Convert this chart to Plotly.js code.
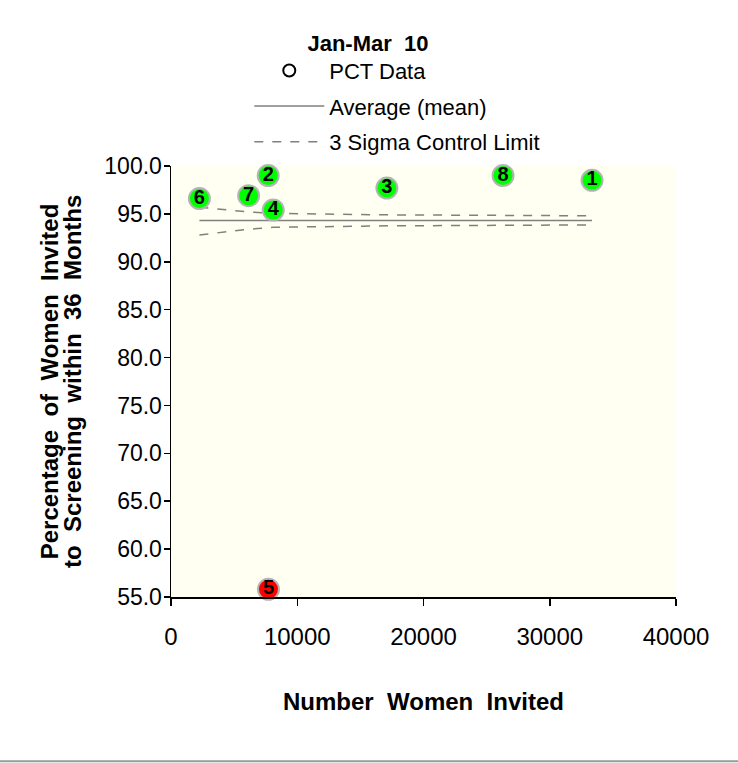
<!DOCTYPE html>
<html>
<head>
<meta charset="utf-8">
<script src="https://cdn.plot.ly/plotly-3.0.1.min.js"></script>
<style>html,body{margin:0;padding:0;background:#fff;}#chart{width:738px;height:763px;}</style>
</head>
<body>
<div id="chart"></div>
<script>
// PCT data points
const pctLabels = ["1", "2", "3", "4", "5", "6", "7", "8"];
const invited = [33350, 7700, 17100, 8100, 7720, 2250, 6150, 26300];
const pctScreened = [98.5, 99.0, 97.7, 95.4, 55.8, 96.6, 96.9, 99.0];
const pointColors = ["#00FF00", "#00FF00", "#00FF00", "#00FF00", "#FF0000", "#00FF00", "#00FF00", "#00FF00"];

// Funnel lines (at each PCT's size, sorted)
const limitX = [2250, 6150, 7700, 7720, 8100, 17100, 26300, 33350];
const meanY = [94.3, 94.3, 94.3, 94.3, 94.3, 94.3, 94.3, 94.3];
const upperY = [95.7, 95.2, 95.1, 95.1, 95.05, 94.9, 94.85, 94.8];
const lowerY = [92.8, 93.4, 93.55, 93.55, 93.6, 93.75, 93.8, 93.85];

const xTicks = [0, 10000, 20000, 30000, 40000];
const yTicks = [55, 60, 65, 70, 75, 80, 85, 90, 95, 100];
const yTitleLines = ["Percentage  of  Women  Invited", "to  Screening  within  36  Months"];

const font = "Liberation Sans, Arial, sans-serif";

const traces = [
  {
    type: "scatter", mode: "markers", name: "PCT Data",
    x: [null], y: [null],
    marker: {symbol: "circle-open", size: 12, color: "#000", line: {width: 2, color: "#000"}},
    legendgroup: "a", showlegend: true, hoverinfo: "skip"
  },
  {
    type: "scatter", mode: "lines", name: "Average (mean)",
    x: limitX, y: meanY,
    line: {color: "#808080", width: 1.5},
    legendgroup: "b", hoverinfo: "skip"
  },
  {
    type: "scatter", mode: "lines", name: "3 Sigma Control Limit",
    x: limitX, y: upperY,
    line: {color: "#808080", width: 1.5, dash: "dash"},
    legendgroup: "c", hoverinfo: "skip"
  },
  {
    type: "scatter", mode: "lines", name: "lower",
    x: limitX, y: lowerY,
    line: {color: "#808080", width: 1.5, dash: "dash"},
    legendgroup: "c", showlegend: false, hoverinfo: "skip"
  },
  {
    type: "scatter", mode: "markers+text", name: "points",
    x: invited, y: pctScreened, text: pctLabels,
    textposition: "middle center",
    textfont: {family: "Liberation Sans Narrow, Arial Narrow, Liberation Sans, Arial", size: 20, color: "#000", weight: "bold"},
    marker: {size: 21, color: pointColors, line: {width: 2, color: "#B4B4B4"}},
    showlegend: false, cliponaxis: false
  }
];

const layout = {
  width: 738, height: 763,
  margin: {l: 171, r: 62, t: 166, b: 166},
  paper_bgcolor: "#FFFFFF",
  plot_bgcolor: "#FFFFF2",
  font: {family: font, color: "#000"},
  title: {
    text: "<b>Jan-Mar  10</b>",
    font: {size: 22, family: font, color: "#000"},
    x: 0.39, xref: "paper", xanchor: "center",
    y: 0.943, yref: "container", yanchor: "middle"
  },
  showlegend: true,
  legend: {
    x: 0.155, xanchor: "left", y: 1.27, yanchor: "top",
    font: {size: 22, family: font, color: "#000"},
    bgcolor: "rgba(0,0,0,0)",
    traceorder: "grouped", tracegroupgap: 4,
    itemwidth: 70, itemclick: false
  },
  xaxis: {
    range: [0, 40000], tickvals: xTicks, ticktext: xTicks.map(String),
    showgrid: false, zeroline: false,
    showline: true, linecolor: "#000", linewidth: 1.5,
    ticks: "outside", ticklen: 7, tickcolor: "#000", tickwidth: 1.5,
    ticklabelstandoff: 11,
    tickfont: {size: 24, family: font, color: "#000"},
    title: {text: "<b>Number  Women  Invited</b>", font: {size: 24, family: font, color: "#000"}, standoff: 44},
    automargin: false, fixedrange: true
  },
  yaxis: {
    range: [55, 100], tickvals: yTicks, ticktext: yTicks.map(v => v.toFixed(1)),
    showgrid: false, zeroline: false,
    showline: true, linecolor: "#000", linewidth: 1.5,
    ticks: "outside", ticklen: 6, tickcolor: "#000", tickwidth: 1.5,
    ticklabelstandoff: -3,
    tickfont: {size: 23, family: font, color: "#000"},
    automargin: false, fixedrange: true
  },
  annotations: [
    {text: "<b>" + yTitleLines[0] + "</b>", xref: "paper", yref: "paper", x: -0.24, y: 0.5,
     xanchor: "center", yanchor: "middle", textangle: -90, showarrow: false,
     font: {size: 24, family: font, color: "#000"}},
    {text: "<b>" + yTitleLines[1] + "</b>", xref: "paper", yref: "paper", x: -0.195, y: 0.5,
     xanchor: "center", yanchor: "middle", textangle: -90, showarrow: false,
     font: {size: 24, family: font, color: "#000"}}
  ],
  shapes: [
    {type: "line", xref: "paper", yref: "paper", x0: -0.4, x1: 1.2, y0: -0.381, y1: -0.381,
     line: {color: "#9A9A9A", width: 2}}
  ]
};

Plotly.newPlot("chart", traces, layout, {displayModeBar: false, staticPlot: true});
</script>
</body>
</html>
